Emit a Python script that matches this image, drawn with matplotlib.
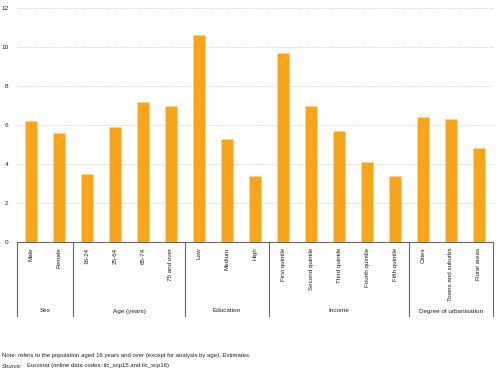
import matplotlib
matplotlib.use("Agg")
import matplotlib.pyplot as plt
import matplotlib.transforms as mtransforms

plt.rcParams['font.family'] = ['Liberation Sans', 'DejaVu Sans']

categories = ["Male", "Female", "16-24", "25-64", "65-74", "75 and over",
              "Low", "Medium", "High",
              "First quintile", "Second quintile", "Third quintile", "Fourth quintile", "Fifth quintile",
              "Cities", "Towns and suburbs", "Rural areas"]
values = [6.2, 5.6, 3.5, 5.9, 7.2, 7.0,
          10.6, 5.3, 3.4,
          9.7, 7.0, 5.7, 4.1, 3.4,
          6.4, 6.3, 4.8]
groups = ["Sex", "Age (years)", "Education", "Income", "Degree of urbanisation"]
group_sizes = [2, 4, 3, 5, 3]
y_ticks = [0, 2, 4, 6, 8, 10, 12]

fig = plt.figure(figsize=(5, 3.7), dpi=100)
ax = fig.add_axes([17/500, 1 - 242/370, 476/500, 234/370])

x = list(range(len(categories)))
ax.bar(x, values, width=0.4, color='#F9A51B', edgecolor='#FDD595', linewidth=0.5, zorder=3)

ax.set_xlim(-0.5, len(categories) - 0.5)
ax.set_ylim(0, 12)
ax.set_yticks(y_ticks)
ax.set_yticklabels([str(v) for v in y_ticks], fontsize=4.6, color='#222222')
ax.set_xticks(x)
ax.set_xticklabels(categories, rotation=90, fontsize=4.5, color='#222222', va='top')
ax.tick_params(axis='both', length=0)
ax.tick_params(axis='y', pad=6)
ax.tick_params(axis='x', pad=4)

for s in ['top', 'right', 'left']:
    ax.spines[s].set_visible(False)
ax.spines['bottom'].set_color('#666666')
ax.spines['bottom'].set_linewidth(0.8)

ax.yaxis.grid(True, color='#dadada', linestyle=(0, (1.5, 1)), linewidth=0.7, zorder=0)
ax.set_axisbelow(True)

trans = mtransforms.blended_transform_factory(ax.transData, ax.transAxes)
bottom_frac = (242 - 316) / 234
label_frac = (242 - 311) / 234
start = -0.5
bounds = [start]
for g, n in zip(groups, group_sizes):
    end = start + n
    ax.text((start + end) / 2, label_frac, g, transform=trans, ha='center', va='center',
            fontsize=4.6, color='#222222')
    bounds.append(end)
    start = end
for b in bounds:
    ax.plot([b, b], [0, bottom_frac], transform=trans, color='#666666', linewidth=0.8, clip_on=False)

fig.text(2/500, 1 - 356/370, "Note: refers to the population aged 16 years and over (except for analysis by age). Estimates.",
         fontsize=4.3, color='#222222', va='center', ha='left')
fig.text(2/500, 1 - 366/370, "Source:", fontsize=4.3, color='#222222', va='center', ha='left', style='italic')
fig.text(27/500, 1 - 366/370, "Eurostat (online data codes: ilc_scp15 and ilc_scp16)",
         fontsize=4.3, color='#222222', va='center', ha='left')

fig.savefig("out.png", dpi=100)
